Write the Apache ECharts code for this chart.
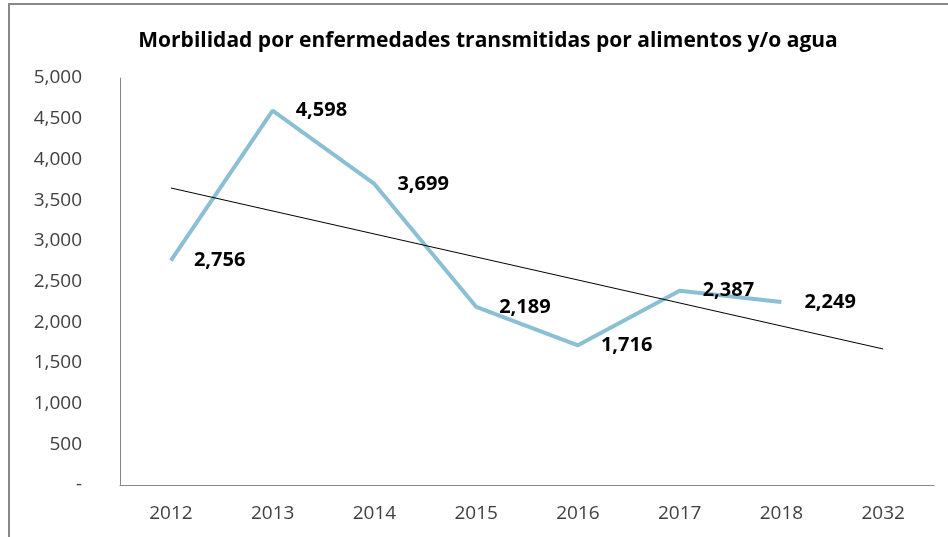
<!DOCTYPE html>
<html>
<head>
<meta charset="utf-8">
<script src="https://cdn.jsdelivr.net/npm/echarts@6/dist/echarts.min.js"></script>
<style>html,body{margin:0;padding:0;background:#fff;}#c{width:948px;height:537px;}</style>
</head>
<body>
<div id="c"></div>
<script>
var titleText = 'Morbilidad por enfermedades transmitidas por alimentos y/o agua';
var categories = ['2012', '2013', '2014', '2015', '2016', '2017', '2018', '2032'];
var values = [2756, 4598, 3699, 2189, 1716, 2387, 2249];
var trendCategories = ['2012', '2032'];
var trendValues = [3649, 1671];
var yTicks = [0, 500, 1000, 1500, 2000, 2500, 3000, 3500, 4000, 4500, 5000];

var FONT = '"Open Sans", "Noto Sans", sans-serif';
function fmt(v) {
  if (v === 0) return '-';
  return v.toString().replace(/\B(?=(\d{3})+(?!\d))/g, ',');
}
var chart = echarts.init(document.getElementById('c'), null, {renderer: 'canvas'});
var option = {
  backgroundColor: '#fff',
  animation: false,
  title: {
    text: titleText,
    left: 483, top: 26, textAlign: 'center',
    textStyle: {fontFamily: FONT, fontWeight: 'bold', fontSize: 21, color: '#000'}
  },
  graphic: [{
    type: 'rect',
    shape: {x: 9, y: 4, width: 960, height: 560},
    style: {fill: 'none', stroke: '#898989', lineWidth: 2},
    silent: true
  }],
  grid: {left: 120, right: 14, top: 78, bottom: 52},
  xAxis: {
    type: 'category',
    data: categories,
    boundaryGap: true,
    axisLine: {show: true, lineStyle: {color: '#868686', width: 1}},
    axisTick: {show: false},
    axisLabel: {fontFamily: FONT, fontSize: 19, color: '#404040', margin: 19}
  },
  yAxis: {
    type: 'value',
    min: yTicks[0], max: yTicks[yTicks.length - 1], interval: yTicks[1] - yTicks[0],
    axisLine: {show: true, lineStyle: {color: '#868686', width: 1}},
    axisTick: {show: false},
    splitLine: {show: false},
    axisLabel: {fontFamily: FONT, fontSize: 19, color: '#404040', margin: 38, formatter: fmt}
  },
  series: [{
    type: 'line',
    data: values,
    symbol: 'circle',
    symbolSize: 2,
    showSymbol: true,
    showAllSymbol: true,
    lineStyle: {color: '#8bbfd3', width: 4},
    itemStyle: {color: 'rgba(140,192,212,0)', borderWidth: 0},
    label: {
      show: true, position: 'right', distance: 22, offset: [0, 4],
      fontFamily: FONT, fontWeight: 'bold', fontSize: 20, color: '#000',
      formatter: function (p) { return fmt(p.value); }
    },
    labelLayout: {hideOverlap: false},
    z: 3
  }, {
    type: 'line',
    data: trendCategories.map(function (c, i) { return [categories.indexOf(c), trendValues[i]]; }),
    symbol: 'none',
    lineStyle: {color: '#000', width: 1},
    z: 4
  }]
};
chart.setOption(option);
</script>
</body>
</html>
